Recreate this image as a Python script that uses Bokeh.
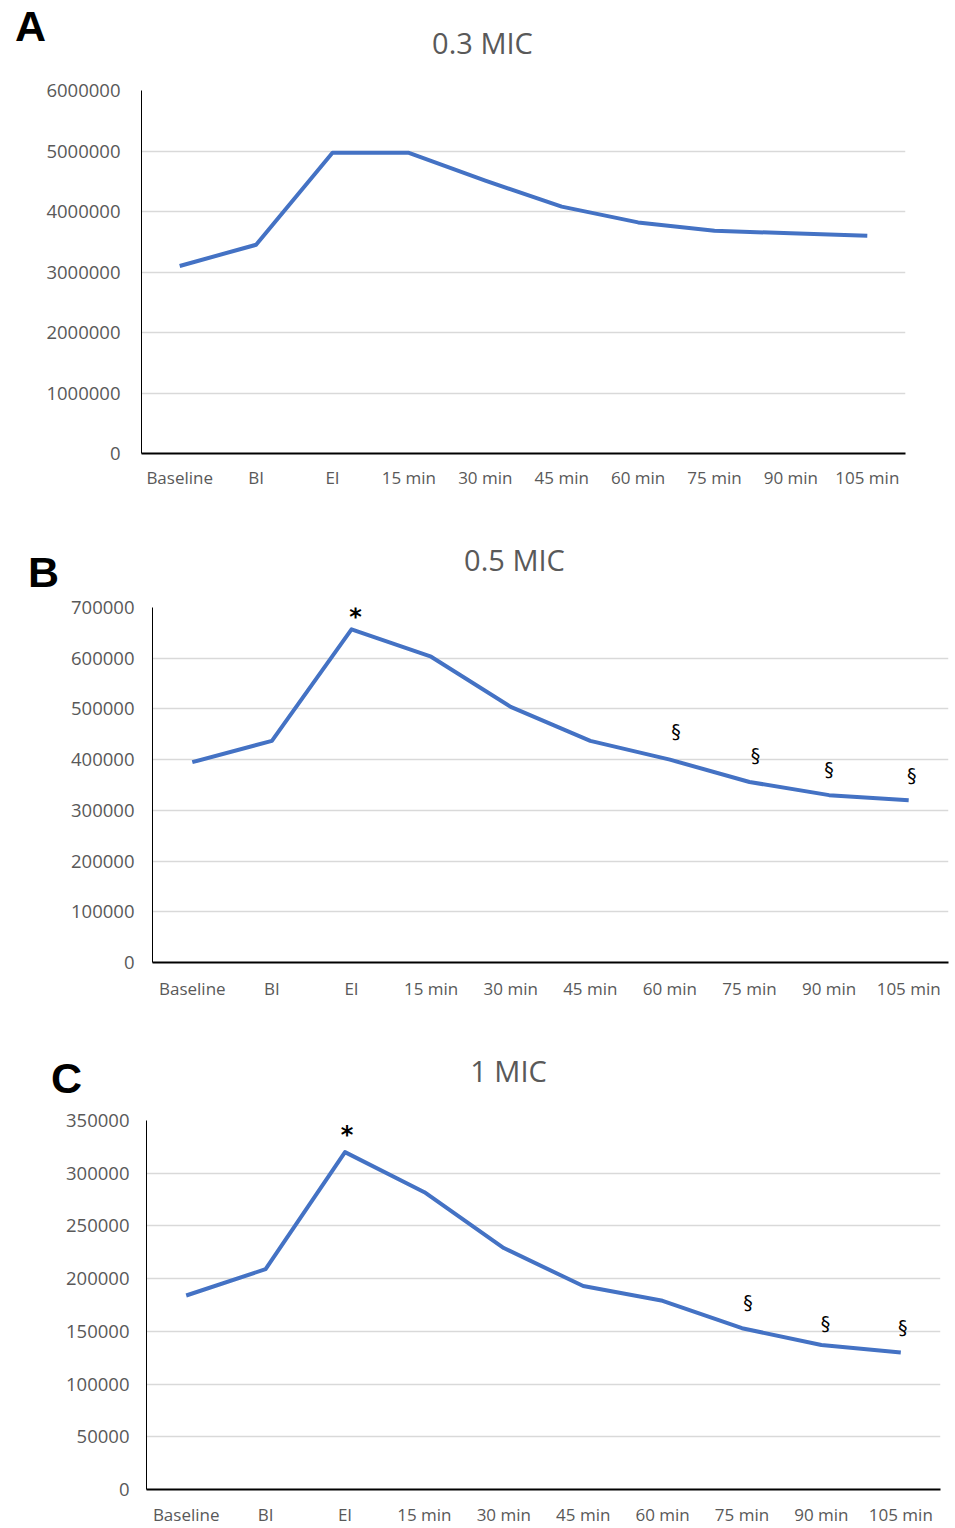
from bokeh.plotting import figure
from bokeh.models import FactorRange, Range1d, FixedTicker, NumeralTickFormatter
from bokeh.core.properties import value
from bokeh.embed import file_html
from bokeh.resources import INLINE

categories = ["Baseline", "BI", "EI", "15 min", "30 min", "45 min",
              "60 min", "75 min", "90 min", "105 min"]

values_a = [3100000, 3450000, 4970000, 4970000, 4510000, 4080000,
            3820000, 3680000, 3640000, 3600000]
values_b = [395000, 437000, 657000, 603000, 504000, 437000,
            400000, 356000, 330000, 320000]
values_c = [184000, 209000, 320000, 282000, 229000, 193000,
            179000, 153000, 137000, 130000]

ticks_a = [0, 1000000, 2000000, 3000000, 4000000, 5000000, 6000000]
ticks_b = [0, 100000, 200000, 300000, 400000, 500000, 600000, 700000]
ticks_c = [0, 50000, 100000, 150000, 200000, 250000, 300000, 350000]

titles = ["0.3 MIC", "0.5 MIC", "1 MIC"]
letters = ["A", "B", "C"]

# significance marks
star_b_cat = ["EI"]
star_b_y = [682000]
sect_b_cats = ["60 min", "75 min", "90 min", "105 min"]
sect_b_y = [455500, 410100, 382500, 370700]

star_c_cat = ["EI"]
star_c_y = [336700]
sect_c_cats = ["75 min", "90 min", "105 min"]
sect_c_y = [177400, 158400, 153700]

LINE = "#4472C4"
GRAY = "#595959"
GRID = "#d9d9d9"
W = 955


def header(height, letter, letter_xy, title, title_xy):
    h = figure(width=W, height=height, x_range=Range1d(0, W), y_range=Range1d(height, 0),
               x_axis_type=None, y_axis_type=None, output_backend="svg",
               toolbar_location=None, min_border=0)
    h.outline_line_color = None
    h.background_fill_color = "white"
    h.border_fill_color = "white"
    h.grid.visible = False
    h.text(x=[letter_xy[0]], y=[letter_xy[1]], text=[letter],
           text_font=value("Liberation Sans"), text_font_size=value("43px"),
           text_font_style="bold", text_color="black",
           text_align="center", text_baseline="middle")
    h.text(x=[title_xy[0]], y=[title_xy[1]], text=[title],
           text_font=value("Open Sans"), text_font_size=value("29px"),
           text_color=GRAY, text_align="center", text_baseline="middle")
    return h


def panel(vals, ticks, height, borders, x_standoff, y_standoff, styles=None):
    top, bottom, left, right = borders
    kw = {} if styles is None else {"styles": styles}
    p = figure(width=W, height=height, x_range=FactorRange(factors=categories),
               y_range=Range1d(0, ticks[-1]), output_backend="svg",
               toolbar_location=None, min_border_top=top, min_border_bottom=bottom,
               min_border_left=left, min_border_right=right, **kw)
    p.outline_line_color = None
    p.background_fill_color = "white"
    p.border_fill_color = "white"
    p.xgrid.grid_line_color = None
    p.ygrid.grid_line_color = GRID
    p.ygrid.grid_line_width = 1.5
    p.yaxis.ticker = FixedTicker(ticks=ticks)
    p.yaxis.formatter = NumeralTickFormatter(format="0")
    for ax in (p.xaxis, p.yaxis):
        ax.major_tick_line_color = None
        ax.minor_tick_line_color = None
        ax.major_label_text_color = GRAY
        ax.major_label_text_font = "Open Sans"
    p.xaxis.major_label_text_font_size = "17px"
    p.yaxis.major_label_text_font_size = "18.5px"
    p.xaxis.axis_line_color = "black"
    p.xaxis.axis_line_width = 2
    p.yaxis.axis_line_color = "black"
    p.yaxis.axis_line_width = 1
    p.xaxis.major_label_standoff = x_standoff
    p.yaxis.major_label_standoff = y_standoff
    p.line(x=categories, y=vals, line_color=LINE, line_width=4, line_join="round")
    return p


def add_marks(p, cats, ys, text, size, bold, offsets):
    p.text(x=cats, y=ys, text=[text] * len(cats), x_offset=offsets,
           text_font=value("DejaVu Sans"), text_font_size=value(size),
           text_font_style="bold" if bold else "normal", text_color="black",
           text_align="center", text_baseline="middle")


hA = header(78, letters[0], (30, 25), titles[0], (482, 42))
pA = panel(values_a, ticks_a, 430, (12, 55, 141, 50), 6, 15)

hB = header(92, letters[1], (43, 63), titles[1], (514, 51))
pB = panel(values_b, ticks_b, 428, (12, 61, 152, 7), 8, 12,
           styles={"margin-top": "-5px"})
add_marks(pB, star_b_cat, star_b_y, "*", "24px", True, [4])
add_marks(pB, sect_b_cats, sect_b_y, "§", "19px", False, [6, 6, 0, 3])

hC = header(82, letters[2], (66, 54), titles[2], (508, 47))
pC = panel(values_c, ticks_c, 423, (15, 39, 146, 15), 7, 11)
add_marks(pC, star_c_cat, star_c_y, "*", "24px", True, [2])
add_marks(pC, sect_c_cats, sect_c_y, "§", "19px", False, [6, 4, 2])

open("out.html", "w").write(file_html([hA, pA, hB, pB, hC, pC], INLINE))
